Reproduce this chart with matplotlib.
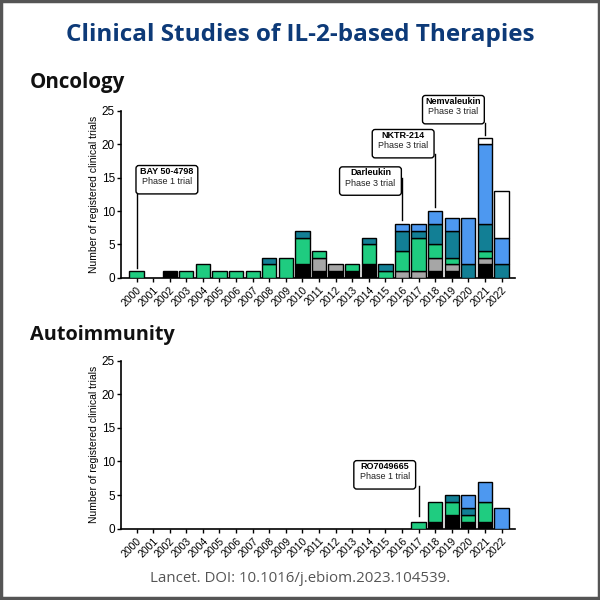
import matplotlib.pyplot as plt
import matplotlib.patches as mpatches
import numpy as np

plt.rcParams['font.family'] = ['Liberation Sans', 'DejaVu Sans']

years = [str(y) for y in range(2000, 2023)]

# oncology stacks, bottom to top
onc_black = [0, 0, 1, 0, 0, 0, 0, 0, 0, 0, 2, 1, 1, 1, 2, 0, 0, 0, 1, 1, 0, 2, 0]
onc_gray  = [0, 0, 0, 0, 0, 0, 0, 0, 0, 0, 0, 2, 1, 0, 0, 0, 1, 1, 2, 1, 0, 1, 0]
onc_green = [1, 0, 0, 1, 2, 1, 1, 1, 2, 3, 4, 1, 0, 1, 3, 1, 3, 5, 2, 1, 0, 1, 0]
onc_teal  = [0, 0, 0, 0, 0, 0, 0, 0, 1, 0, 1, 0, 0, 0, 1, 1, 3, 1, 3, 4, 2, 4, 2]
onc_blue  = [0, 0, 0, 0, 0, 0, 0, 0, 0, 0, 0, 0, 0, 0, 0, 0, 1, 1, 2, 2, 7, 12, 4]
onc_white = [0, 0, 0, 0, 0, 0, 0, 0, 0, 0, 0, 0, 0, 0, 0, 0, 0, 0, 0, 0, 0, 1, 7]

# autoimmunity stacks
aut_black = [0]*17 + [0, 1, 2, 1, 1, 0]
aut_gray  = [0]*23
aut_green = [0]*17 + [1, 3, 2, 1, 3, 0]
aut_teal  = [0]*17 + [0, 0, 1, 1, 0, 0]
aut_blue  = [0]*17 + [0, 0, 0, 2, 3, 3]
aut_white = [0]*23

colors = ['#000000', '#a6a6a6', '#1fcc80', '#127f95', '#4d98f0', '#ffffff']

# (name, phase, year index, box x, box y, line top, line bottom)
onc_notes = [("BAY 50-4798", "Phase 1 trial", 0, 1.83, 14.7, 15.0, 1.5),
             ("Darleukin", "Phase 3 trial", 16, 14.1, 14.5, 15.0, 8.7),
             ("NKTR-214", "Phase 3 trial", 18, 16.07, 20.1, 18.6, 10.6),
             ("Nemvaleukin", "Phase 3 trial", 21, 19.1, 25.2, 23.2, 21.4)]
aut_notes = [("RO7049665", "Phase 1 trial", 17, 14.96, 8.0, 6.3, 1.9)]


def draw_panel(ax, stacks, notes):
    x = np.arange(len(years))
    bottom = np.zeros(len(years))
    for vals, c in zip(stacks, colors):
        vals = np.array(vals, dtype=float)
        mask = vals > 0
        ax.bar(x[mask], vals[mask], 0.86, bottom=bottom[mask], color=c,
               edgecolor='black', linewidth=1.0, zorder=3)
        bottom += vals
    ax.set_xlim(-0.96, 22.8)
    ax.set_ylim(0, 25)
    ax.set_yticks([0, 5, 10, 15, 20, 25])
    ax.set_xticks(x)
    ax.set_xticklabels(years, rotation=45, ha='right', rotation_mode='anchor', fontsize=7.5)
    ax.tick_params(axis='y', labelsize=8.5, length=3, width=1, pad=1)
    ax.tick_params(axis='x', length=3, width=1, pad=2)
    for s in ['top', 'right']:
        ax.spines[s].set_visible(False)
    for s in ['left', 'bottom']:
        ax.spines[s].set_linewidth(1.2)
    ax.set_ylabel("Number of registered clinical trials", fontsize=7.5, labelpad=2)
    ax.patch.set_alpha(0)

    for name, phase, xi, bx, by, ltop, lbot in notes:
        ax.plot([xi, xi], [ltop, lbot], color='black', lw=1.0, zorder=4, clip_on=False)
        ax.text(bx, by, " " * 20 + "\n" + " " * 20, ha='center', va='center',
                fontsize=7, clip_on=False, zorder=5, color='none',
                bbox=dict(boxstyle='round,pad=0.35,rounding_size=0.3',
                          fc='white', ec='black', lw=1.0))
        ax.text(bx, by + 0.6, name, ha='center', va='bottom', fontsize=6.5,
                fontweight='bold', zorder=6, clip_on=False)
        ax.text(bx, by + 0.35, phase, ha='center', va='top', fontsize=6.5,
                color='#222222', zorder=6, clip_on=False)


fig = plt.figure(figsize=(6, 6), dpi=100)

fig.text(0.5, 0.941, "Clinical Studies of IL-2-based Therapies", ha='center', va='center',
         fontsize=17.5, fontweight='bold', color='#0d3a78', family=['Open Sans', 'DejaVu Sans'])
fig.text(0.05, 0.862, "Oncology", ha='left', va='center', fontsize=14.8,
         fontweight='bold', color='#111111', family=['Open Sans', 'DejaVu Sans'])
fig.text(0.05, 0.442, "Autoimmunity", ha='left', va='center', fontsize=14.3,
         fontweight='bold', color='#111111', family=['Open Sans', 'DejaVu Sans'])
fig.text(0.5, 0.035, "Lancet. DOI: 10.1016/j.ebiom.2023.104539.", ha='center', va='center',
         fontsize=10.8, color='#555555', family=['Open Sans', 'DejaVu Sans'])

ax1 = fig.add_axes([0.201, 0.537, 0.657, 0.278])
draw_panel(ax1, [onc_black, onc_gray, onc_green, onc_teal, onc_blue, onc_white], onc_notes)

ax2 = fig.add_axes([0.201, 0.119, 0.657, 0.28])
draw_panel(ax2, [aut_black, aut_gray, aut_green, aut_teal, aut_blue, aut_white], aut_notes)

fig.patches.append(mpatches.Rectangle((0.002, 0.004), 0.996, 0.994, transform=fig.transFigure,
                                      fill=False, ec='#555555', lw=2.5))

fig.savefig("out.png", dpi=100)
